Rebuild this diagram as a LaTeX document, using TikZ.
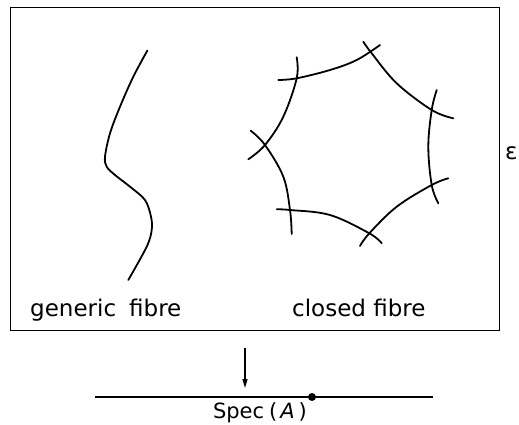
\documentclass[tikz,border=0pt]{standalone}
\usepackage{fontspec}
\setmainfont{DejaVu Sans}
\usetikzlibrary{arrows.meta}
\begin{document}
\begin{tikzpicture}[x=1pt,y=-1pt,
  fibre/.style={line width=1.8pt,line cap=round,line join=round},
  lbl/.style={font=\fontsize{23}{25}\selectfont,inner sep=0pt,anchor=base west}]
\useasboundingbox (0,0) rectangle (519,425);
% frame
\draw[line width=1pt] (10,8) rectangle (499,330);
% generic fibre
\draw[fibre] plot[smooth,tension=0.55] coordinates {(147.3,50.7) (133.3,76.7) (120,106.7) (110,133.3) (105,156.7) (106.7,166.7) (115,175) (130,186.7) (145,200) (151,216.7) (151.7,230) (146.7,246.7) (128.3,280)};
% closed fibre
\draw[fibre] plot[smooth,tension=0.6] coordinates {(278.3,80) (296.7,78.3) (330,70) (356.7,60) (380,45)};
\draw[fibre] plot[smooth,tension=0.6] coordinates {(363.3,41.7) (371.7,53.3) (396.7,83.3) (431.7,110) (453.3,118.3)};
\draw[fibre] plot[smooth,tension=0.6] coordinates {(436.7,90) (431.7,110) (428.3,146.7) (431.7,185) (438.3,203.3)};
\draw[fibre] plot[smooth,tension=0.6] coordinates {(448.3,178.3) (431.7,185) (396.7,206.7) (369.3,233.3) (360,246)};
\draw[fibre] plot[smooth,tension=0.6] coordinates {(381.7,243.3) (369.3,233.3) (330,215) (290,210) (276.7,209.3)};
\draw[fibre] plot[smooth,tension=0.6] coordinates {(291.7,234) (290,210) (283.3,176.7) (265,145) (250.7,130.7)};
\draw[fibre] plot[smooth,tension=0.6] coordinates {(248.3,159.3) (265,145) (283.3,116.7) (296.7,78.3) (296.7,57.3)};
% labels
\node[lbl] (gen) at (30,316) {generic\hspace{13pt}fibre};
\node[lbl] (clo) at (292,316) {closed fibre};
\node[lbl] (eps) at (505,159) {ε};
% base
\coordinate (ltop) at (245,348);
\coordinate (lbot) at (245,388);
\draw[line width=1.3pt,-{Triangle[length=9pt,width=5pt]}] (ltop) -- (lbot);
\coordinate (bl) at (95,397);
\coordinate (br) at (433,397);
\draw[line width=1.1pt] (bl) -- (br);
\node[circle,fill,inner sep=0pt,minimum size=8pt] (pt) at (312,397) {};
\node[font=\fontsize{21}{23}\selectfont,inner sep=0pt,anchor=base] (spec) at (260,418) {Spec\hspace{5pt}(\hspace{3pt}\textit{A}\hspace{4pt})};
\end{tikzpicture}
\end{document}
